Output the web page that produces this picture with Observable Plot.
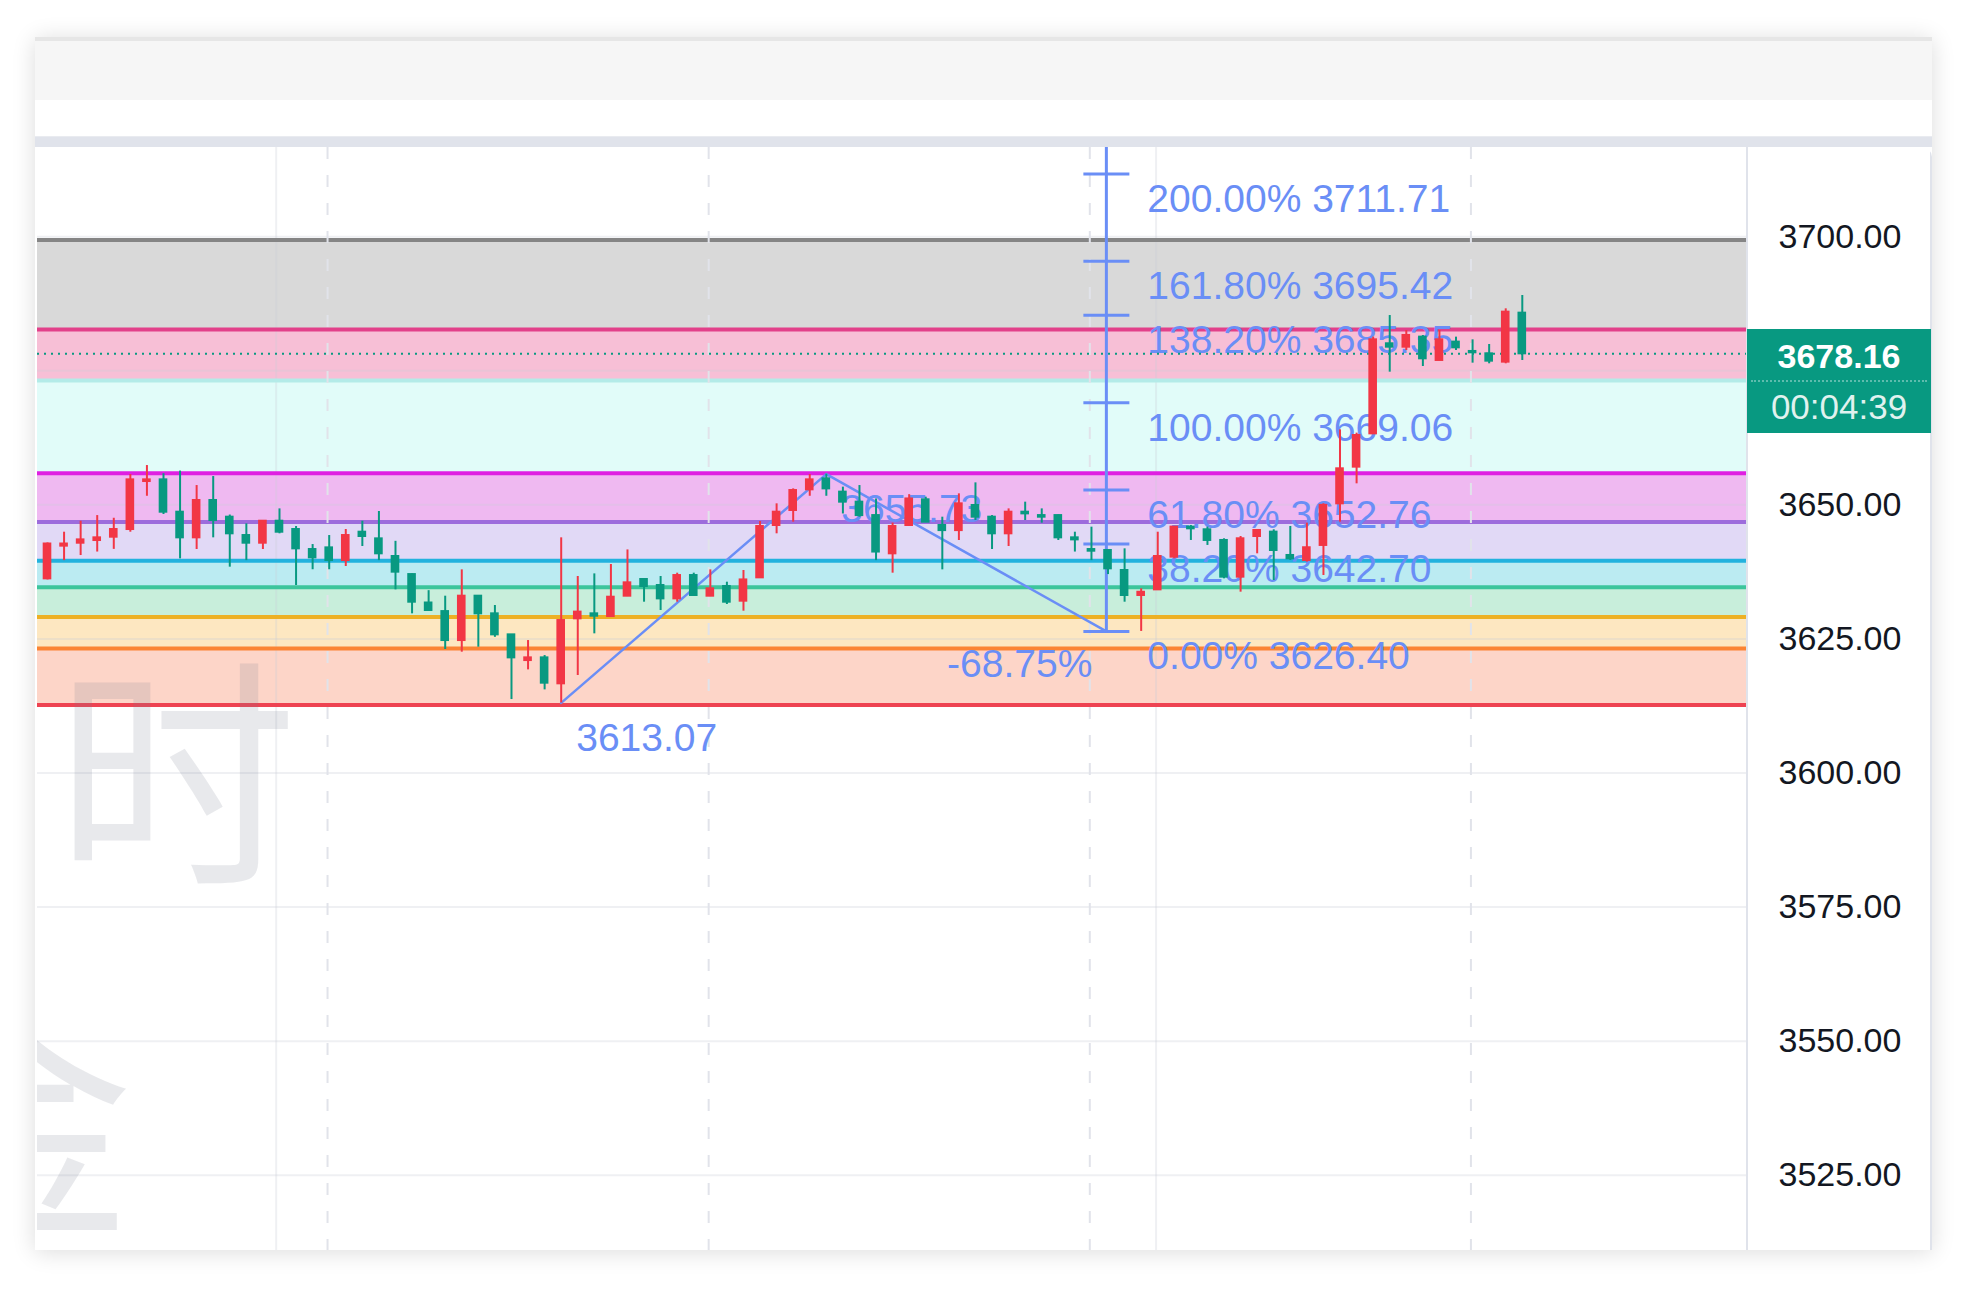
<!DOCTYPE html>
<html>
<head>
<meta charset="utf-8">
<script src="https://cdn.jsdelivr.net/npm/d3@7"></script>
<script src="https://cdn.jsdelivr.net/npm/@observablehq/plot@0.6"></script>
<style>
html,body{margin:0;padding:0;background:#fff;width:1970px;height:1289px;overflow:hidden;font-family:"Liberation Sans",Arial,sans-serif}
#card{position:absolute;left:35px;top:37px;width:1897px;height:1213px;background:#fff;box-shadow:0 2px 22px rgba(0,0,0,0.14);overflow:hidden}
#hdr{position:absolute;left:0;top:0;width:100%;height:63px;background:#f6f6f6;border-top:4px solid #e6e6e6;box-sizing:border-box}
#band{position:absolute;left:0;top:99px;width:100%;height:11px;background:#e0e3eb;border-top:1px solid #e9ebf0;box-sizing:border-box}
#panel{position:absolute;left:2px;top:110px;width:1895px;height:1103px;background:#fff;border-top-right-radius:10px;overflow:hidden}
#divider{position:absolute;left:1709px;top:0;width:2px;height:100%;background:#e0e3eb}
#rborder{position:absolute;right:0;top:0;width:2px;height:100%;background:#e0e3eb}
#wm{position:absolute;left:0;top:0;pointer-events:none}
#pbox{position:absolute;left:1710px;width:184px;height:104px;background:#089981;color:#fff}
#pbox .a{position:absolute;top:3px;left:0;width:100%;height:48px;line-height:49px;text-align:center;font-size:34px;font-weight:bold;overflow:hidden}
#pbox .s{position:absolute;top:51px;left:4px;right:4px;height:0;border-top:2px dotted rgba(255,255,255,0.35)}
#pbox .b{position:absolute;top:53px;left:0;width:100%;height:50px;line-height:50px;text-align:center;font-size:35px;color:rgba(255,255,255,0.88);overflow:hidden}
</style>
</head>
<body>
<div id="card">
  <div id="hdr"></div>
  <div id="band"></div>
  <div id="panel">
    <div id="plot"></div>
    <svg id="wm" width="1709" height="1103">
      <text x="18" y="719" font-size="242" font-family="'Noto Sans CJK SC'" fill="rgba(118,122,140,0.17)">时</text>
      <text x="-27" y="1070" font-size="246" text-anchor="middle" font-family="'Noto Sans CJK SC'" fill="rgba(118,122,140,0.17)">金</text>
    </svg>
    <div id="divider"></div>
    <div id="rborder"></div>
    <div id="pbox"><div class="a" id="pa"></div><div class="s"></div><div class="b" id="pb"></div></div>
  </div>
</div>
<script>
// ---- candle data (index 0..89) ----
const candleOpen = [3636.2,3642.3,3642.85,3643.35,3643.97,3645.4,3654.35,3654.66,3648.63,3643.85,
  3650.81,3647.7,3644.28,3642.85,3646.95,3645.4,3641.67,3641.98,3639.62,3644.9,
  3643.66,3640.37,3637.0,3631.7,3630.1,3624.7,3632.97,3629.68,3625.76,3620.97,
  3621.47,3616.63,3628.75,3629.68,3629.18,3632.97,3636.08,3634.96,3632.47,3636.82,
  3632.97,3634.78,3632.04,3636.39,3646.15,3648.95,3652.8,3654.85,3652.37,3650.5,
  3648.0,3640.87,3646.15,3650.94,3646.15,3645.2,3649.88,3647.7,3644.6,3648.63,
  3648.0,3648.0,3643.85,3641.67,3641.49,3637.76,3633.1,3634.15,3640.25,3645.85,
  3645.35,3643.36,3636.52,3644.1,3644.91,3640.56,3639.63,3642.43,3650.19,3657.03,
  3663.24,3680.03,3679.4,3681.27,3676.92,3680.34,3678.6,3678.16,3676.61,3685.74];
const candleHigh = [3642.9,3644.9,3646.95,3648.0,3647.5,3655.66,3657.33,3655.8,3656.3,3653.6,
  3655.28,3648.1,3646.46,3647.0,3649.25,3645.96,3642.6,3644.28,3645.4,3646.95,
  3648.76,3643.2,3637.1,3634.0,3632.97,3637.88,3633.0,3631.23,3625.8,3624.7,
  3621.9,3643.85,3636.64,3637.13,3638.88,3641.6,3636.1,3636.64,3637.26,3637.26,
  3637.88,3635.58,3637.76,3646.9,3650.19,3652.98,3655.66,3655.73,3653.3,3653.6,
  3651.1,3646.6,3651.9,3651.43,3647.7,3652.05,3654.1,3648.0,3649.25,3650.5,
  3649.25,3648.1,3644.9,3645.84,3641.6,3641.8,3634.35,3644.9,3645.97,3646.16,
  3645.85,3643.67,3644.1,3645.22,3645.35,3645.97,3646.6,3650.2,3663.99,3663.37,
  3681.27,3685.3,3682.51,3681.58,3682.51,3681.27,3680.77,3679.9,3686.55,3689.04];
const candleLow = [3636.0,3639.6,3640.55,3641.2,3641.7,3644.9,3651.6,3648.2,3639.93,3641.67,
  3643.85,3638.38,3639.6,3641.67,3644.6,3634.96,3637.9,3637.9,3638.5,3642.23,
  3639.6,3634.15,3629.68,3630.2,3623.03,3622.53,3623.46,3625.3,3613.7,3619.23,
  3615.5,3613.07,3618.18,3625.95,3629.1,3632.9,3631.85,3630.3,3631.85,3633.0,
  3632.9,3631.42,3630.17,3636.3,3644.6,3646.77,3651.6,3651.6,3648.3,3647.7,
  3639.6,3637.26,3646.1,3646.7,3637.88,3643.35,3647.08,3641.67,3642.23,3647.08,
  3646.58,3643.35,3641.2,3639.6,3637.0,3631.85,3626.4,3634.1,3639.94,3643.36,
  3642.43,3636.21,3633.72,3640.87,3635.9,3639.63,3639.32,3636.83,3646.78,3653.92,
  3663.2,3674.74,3678.78,3675.8,3676.9,3678.78,3676.42,3676.3,3676.3,3676.92];
const candleClose = [3642.7,3642.7,3643.47,3643.85,3645.4,3654.66,3654.66,3648.63,3643.85,3650.81,
  3647.08,3644.6,3642.85,3646.95,3644.9,3641.8,3640.12,3639.62,3644.28,3644.1,
  3640.87,3637.45,3631.85,3630.3,3624.7,3632.97,3629.68,3625.76,3621.47,3621.47,
  3616.75,3628.43,3630.0,3629.24,3632.78,3635.46,3634.78,3632.47,3636.82,3633.1,
  3634.34,3631.85,3636.0,3645.96,3648.63,3652.67,3654.66,3652.98,3650.5,3648.0,
  3641.2,3645.96,3651.1,3646.77,3645.2,3650.19,3647.7,3644.6,3648.63,3648.32,
  3647.7,3643.85,3643.47,3641.36,3638.07,3633.1,3633.7,3640.37,3645.85,3645.53,
  3643.36,3636.52,3643.67,3645.22,3641.49,3639.94,3642.0,3649.9,3656.72,3662.93,
  3680.77,3679.4,3681.58,3677.23,3680.77,3679.28,3678.35,3676.79,3685.93,3678.16];

// ---- price axis (3675.00 sits under the live-price tag, so it carries no label) ----
const gridTicks = [3525, 3550, 3575, 3600, 3625, 3650, 3675, 3700];
const labelTicks = [3525, 3550, 3575, 3600, 3625, 3650, 3700];

// ---- horizontal zones (top, bottom) and zone boundary levels ----
const zoneTop    = [3699.4, 3682.7, 3673.2, 3655.9, 3646.8, 3639.6, 3634.65, 3629.1, 3623.2];
const zoneBottom = [3682.7, 3673.2, 3655.9, 3646.8, 3639.6, 3634.65, 3629.1, 3623.2, 3612.7];
const zoneLevels = [3699.4, 3682.7, 3673.2, 3655.9, 3646.8, 3639.6, 3634.65, 3629.1, 3623.2, 3612.7];

// ---- trend-based Fibonacci extension ----
const fibPct   = ["200.00%", "161.80%", "138.20%", "100.00%", "61.80%", "38.20%", "0.00%"];
const fibValue = [3711.71, 3695.42, 3685.35, 3669.06, 3652.76, 3642.70, 3626.40];
const fibAnchorX = 63.9;
const fibTopValue = 3730;
const trendX = [31, 47, 63.9];
const trendY = [3613.07, 3655.73, 3626.40];
const trendLabel = ["3613.07", "3655.73", "-68.75%"];

// ---- vertical time grid / session separators (bar index) ----
const gridX = [13.8, 66.9];
const sessionX = [16.9, 39.9, 62.9, 85.9];

const lastPrice = 3678.16;
const countdown = "00:04:39";

// ---- styles ----
const RED = "#f23645", GREEN = "#089981", BLUE = "#6a8ef6";
const zoneFillPalette = ["#d9d9d9","#f7bfd6","#e1fcf9","#efb9f1","#e1d9f6","#bbebf2","#c8eedb","#fde7c1","#fdd5c8"];
const zoneLinePalette = ["#858585","#e2408a","#b3ebe8","#df20e2","#9d6cdc","#22b2de","#3cc59c","#edb024","#fb8434","#ee4352"];

const candles = candleOpen.map((o, i) => ({i, open: o, high: candleHigh[i], low: candleLow[i], close: candleClose[i]}));
const col = d => d.close >= d.open ? RED : GREEN;
const zones = zoneTop.map((t, k) => ({top: t, bottom: zoneBottom[k], fill: zoneFillPalette[k]}));
const levels = zoneLevels.map((v, k) => ({value: v, color: zoneLinePalette[k]}));
const fib = fibPct.map((p, k) => ({x: fibAnchorX, value: fibValue[k], label: `${p} ${fibValue[k].toFixed(2)}`}));
const trend = trendX.map((x, k) => ({x, y: trendY[k], label: trendLabel[k]}));
const hline = {draw(ctx, size) { const r = Math.sqrt(size / Math.PI); ctx.moveTo(-r, 0); ctx.lineTo(r, 0); }};

const chart = Plot.plot({
  width: 1895, height: 1103,
  marginTop: 0, marginBottom: 0, marginLeft: 0, marginRight: 186,
  x: {domain: [-0.6035, 102.53], axis: null},
  y: {domain: [3510.97, 3716.63], axis: null},
  color: {type: "identity"},
  style: {background: "transparent", fontFamily: "'Liberation Sans', Arial, sans-serif", overflow: "hidden"},
  marks: [
    Plot.rect(zones, {y1: "top", y2: "bottom", fill: "fill"}),
    Plot.gridY(gridTicks, {stroke: "#c9cdd8", strokeOpacity: 0.3, strokeWidth: 2}),
    Plot.ruleX(gridX, {stroke: "#c9cdd8", strokeOpacity: 0.3, strokeWidth: 2}),
    Plot.ruleY(levels, {y: "value", stroke: "color", strokeWidth: 4}),
    Plot.ruleX(sessionX, {stroke: "#e1e3ea", strokeWidth: 2, strokeDasharray: "12,16"}),
    Plot.text(fib, {x: "x", y: "value", text: "label", textAnchor: "start", lineAnchor: "bottom", dx: 41, dy: 38, fill: BLUE, fontSize: 39}),
    Plot.text(trend.slice(0, 2), {x: "x", y: "y", text: "label", textAnchor: "start", lineAnchor: "top", dx: 15, dy: 20, fill: BLUE, fontSize: 39}),
    Plot.text(trend.slice(2), {x: "x", y: "y", text: "label", textAnchor: "end", lineAnchor: "top", dx: -14, dy: 18, fill: BLUE, fontSize: 39}),
    Plot.ruleX([fibAnchorX], {y1: fibValue[fibValue.length - 1], y2: fibTopValue, stroke: BLUE, strokeWidth: 3, clip: true}),
    Plot.dot(fib, {x: "x", y: "value", symbol: hline, r: 23, stroke: BLUE, fill: "none", strokeWidth: 3}),
    Plot.line(trend, {x: "x", y: "y", stroke: BLUE, strokeWidth: 2.5}),
    Plot.ruleY([lastPrice], {stroke: GREEN, strokeWidth: 2, strokeDasharray: "2,5"}),
    Plot.ruleX(candles, {x: "i", y1: "low", y2: "high", stroke: col, strokeWidth: 2}),
    Plot.rect(candles, {x1: d => d.i - 0.26, x2: d => d.i + 0.26, y1: "open", y2: "close", fill: col, insetTop: -1, insetBottom: -1}),
    Plot.axisY(labelTicks, {anchor: "right", tickSize: 0, tickPadding: 32, tickFormat: d => d.toFixed(2), fontSize: 34, fill: "#131722"})
  ]
});
document.getElementById("plot").appendChild(chart);

const yPix = chart.scale("y").apply(lastPrice);
const pbox = document.getElementById("pbox");
pbox.style.top = (yPix - 24) + "px";
document.getElementById("pa").textContent = lastPrice.toFixed(2);
document.getElementById("pb").textContent = countdown;
</script>
</body>
</html>
